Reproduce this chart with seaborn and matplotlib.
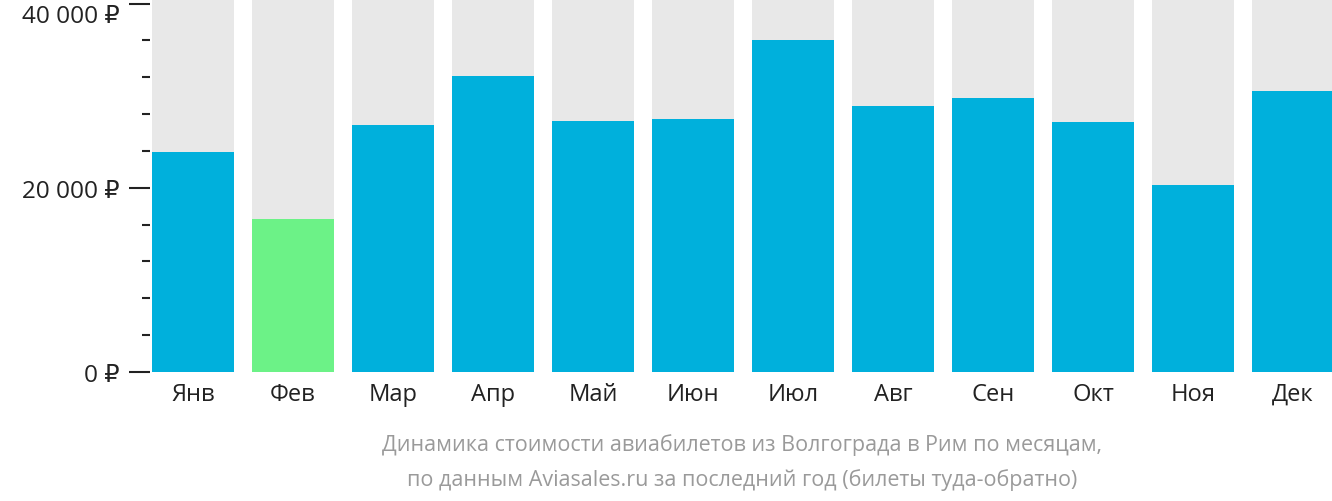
import matplotlib
matplotlib.use('Agg')
import matplotlib.pyplot as plt
import seaborn as sns
import pandas as pd
from matplotlib.ticker import FixedLocator, MultipleLocator

plt.rcParams['font.family'] = ['Open Sans', 'DejaVu Sans']

months = ['Янв', 'Фев', 'Мар', 'Апр', 'Май', 'Июн', 'Июл', 'Авг', 'Сен', 'Окт', 'Ноя', 'Дек']
prices = [23900, 16600, 26800, 32100, 27200, 27500, 36000, 28900, 29800, 27100, 20300, 30500]
cheapest = 'Фев'
y_max = 40500

df = pd.DataFrame({'month': months, 'price': prices})
df['bg'] = y_max
colors = ['#6cf287' if m == cheapest else '#00b0dc' for m in months]

fig = plt.figure(figsize=(13.32, 5.02), dpi=100)
ax = fig.add_axes([150 / 1332, 129 / 502, 1182 / 1332, 373 / 502])

sns.barplot(data=df, x='month', y='bg', color='#e8e8e8', width=0.82, ax=ax, saturation=1)
sns.barplot(data=df, x='month', y='price', hue='month', palette=colors, legend=False,
            width=0.82, ax=ax, saturation=1)

ax.set_ylim(0, y_max)
ax.set_xlim(-0.43, 11.39)
ax.yaxis.set_major_locator(FixedLocator([0, 20000, 40000]))
ax.yaxis.set_minor_locator(MultipleLocator(4000))
ax.set_yticklabels(['0 ₽', '20 000 ₽', '40 000 ₽'])
for lbl in ax.get_yticklabels():
    if lbl.get_text().startswith('40'):
        lbl.set_va('top')
ax.tick_params(axis='y', which='major', length=15, width=1.5, color='#222222', pad=7,
               labelsize=17.5, labelcolor='#222222')
ax.tick_params(axis='y', which='minor', length=6, width=1.5, color='#222222')
ax.tick_params(axis='x', length=0, labelsize=17, labelcolor='#222222', pad=7)
ax.set_xlabel('')
ax.set_ylabel('')
for s in ax.spines.values():
    s.set_visible(False)

fig.text(0.557, 0.113, 'Динамика стоимости авиабилетов из Волгограда в Рим по месяцам,',
         ha='center', va='center', fontsize=15.5, color='#9a9a9a')
fig.text(0.557, 0.043, 'по данным Aviasales.ru за последний год (билеты туда-обратно)',
         ha='center', va='center', fontsize=15.5, color='#9a9a9a')

fig.savefig('out.png', dpi=100)
